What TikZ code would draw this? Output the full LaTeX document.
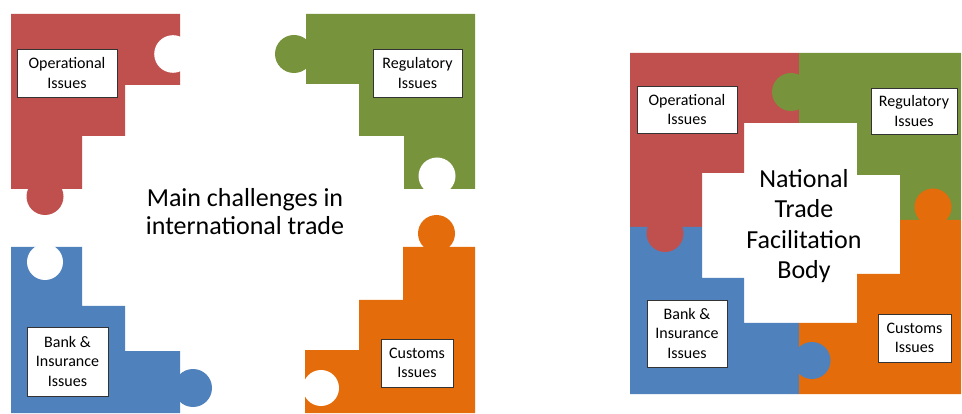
\documentclass[tikz,border=0pt]{standalone}
\usepackage{fontspec}
\setmainfont{Carlito}
\definecolor{pred}{HTML}{C0504D}
\definecolor{pgreen}{HTML}{77933C}
\definecolor{pblue}{HTML}{4F81BD}
\definecolor{porange}{HTML}{E46C0A}
\tikzset{
  label box/.style={draw=black!80, fill=white, line width=0.8pt, inner sep=0pt,
    align=center, font=\fontsize{16}{19.5}\selectfont},
  big text/.style={align=center, inner sep=0pt}
}
\begin{document}
\begin{tikzpicture}[x=1pt,y=-1pt]
\useasboundingbox[fill=white] (0,0) rectangle (962,414);
% ---------- left puzzle ----------
\fill[pred] (11,14) -- (180,14) -- (180,85) -- (125,85) -- (125,136) -- (82,136) -- (82,189) -- (11,189) -- cycle;
\fill[pred] (45,196.5) circle[radius=18.5pt];
\fill[white] (173,54) circle[radius=18.8pt];
\fill[pgreen] (306,14) -- (475,14) -- (475,189) -- (404,189) -- (404,136) -- (359,136) -- (359,84) -- (306,84) -- cycle;
\fill[pgreen] (294,54) circle[radius=19pt];
\fill[white] (437,176) circle[radius=18.5pt];
\fill[pblue] (11,247) -- (82,247) -- (82,306) -- (125,306) -- (125,351) -- (180,351) -- (180,413) -- (11,413) -- cycle;
\fill[white] (45,262) circle[radius=18pt];
\fill[pblue] (193,388) circle[radius=19pt];
\fill[porange] (403,247) -- (475,247) -- (475,413) -- (305,413) -- (305,350) -- (359,350) -- (359,300) -- (403,300) -- cycle;
\fill[porange] (436.5,233.5) circle[radius=18.5pt];
\fill[white] (321,388) circle[radius=18pt];
\node[label box, minimum width=100pt, minimum height=48pt] (lop) at (67,73) {Operational\\Issues};
\node[label box, minimum width=89pt, minimum height=48pt] (lreg) at (417.5,73) {Regulatory\\Issues};
\node[label box, minimum width=81pt, minimum height=69pt] (lbank) at (67.5,361.5) {Bank \&\\Insurance\\Issues};
\node[label box, minimum width=72pt, minimum height=48pt] (lcus) at (417,363) {Customs\\Issues};
\node[big text, font=\fontsize{26}{28}\selectfont] (ltitle) at (245,212) {Main challenges in\\international trade};
% ---------- right puzzle ----------
\fill[pred] (630,53) -- (799,53) -- (799,123) -- (744,123) -- (744,173) -- (702,173) -- (702,227) -- (630,227) -- cycle;
\fill[pgreen] (799,53) -- (961,53) -- (961,220) -- (900,220) -- (900,175) -- (857,175) -- (857,123) -- (799,123) -- cycle;
\fill[pblue] (630,227) -- (702,227) -- (702,278) -- (744,278) -- (744,323) -- (799,323) -- (799,394) -- (630,394) -- cycle;
\fill[porange] (961,220) -- (961,394) -- (799,394) -- (799,323) -- (857,323) -- (857,274) -- (900,274) -- (900,220) -- cycle;
\fill[pgreen] (791,92) circle[radius=19pt];
\fill[porange] (933,207) circle[radius=18.5pt];
\fill[pred] (665,233.5) circle[radius=18.5pt];
\fill[pblue] (812,360.5) circle[radius=18.5pt];
\node[label box, minimum width=100pt, minimum height=47pt] (rop) at (687,109.5) {Operational\\Issues};
\node[label box, minimum width=86pt, minimum height=46pt] (rreg) at (914,111) {Regulatory\\Issues};
\node[label box, minimum width=80pt, minimum height=67pt] (rbank) at (687,333.5) {Bank \&\\Insurance\\Issues};
\node[label box, minimum width=73pt, minimum height=48pt] (rcus) at (914.5,338) {Customs\\Issues};
\node[big text, font=\fontsize{26}{30.5}\selectfont] (rtitle) at (804,226) {National\\Trade\\Facilitation\\Body};
\end{tikzpicture}
\end{document}
